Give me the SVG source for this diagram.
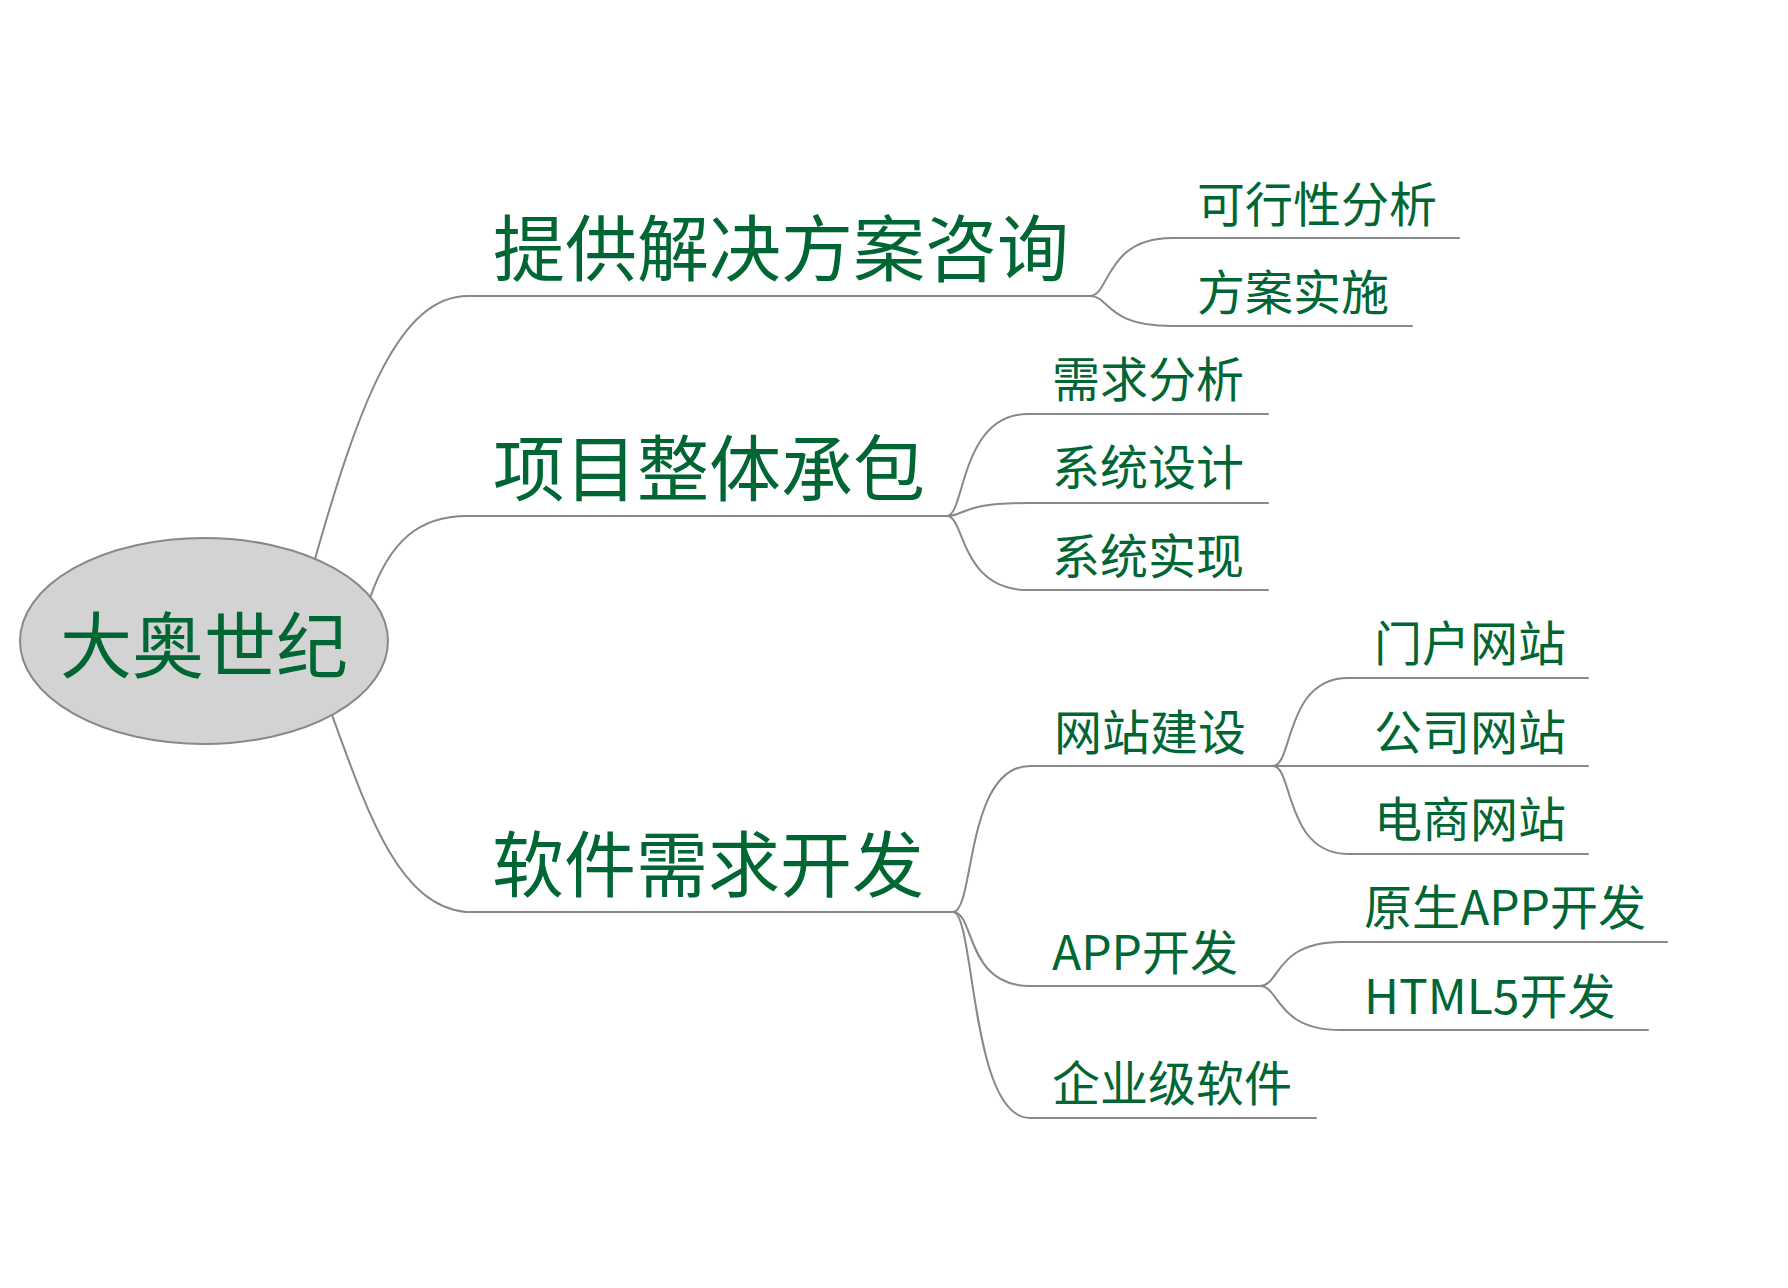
<svg xmlns="http://www.w3.org/2000/svg" width="1788" height="1288" viewBox="0 0 1788 1288">
<style>
.t{font-family:"Noto Sans CJK SC","Noto Sans",sans-serif;fill:#006633}
.b{font-size:72px}
.s{font-size:48px}
.c{fill:none;stroke:#888888;stroke-width:2;stroke-linecap:round}
</style>
<rect width="1788" height="1288" fill="#ffffff"/>
<g id="connectors" class="c">
<path d="M315 559 C360 400 400 296 468 296 L1090 296"/>
<path d="M370 598 C390 540 420 516 467 516 L947 516"/>
<path d="M332 715 C370 820 400 905 466 912 L953 912"/>
<path d="M1090 296 C1110 296 1105 238 1172 238 L1459 238"/>
<path d="M1090 296 C1110 296 1105 326 1172 326 L1412 326"/>
<path d="M947 516 C965 516 960 414 1028 414 L1268 414"/>
<path d="M947 516 C965 516 960 503 1028 503 L1268 503"/>
<path d="M947 516 C965 516 960 590 1028 590 L1268 590"/>
<path d="M953 912 C975 912 965 766 1030 766 L1273 766"/>
<path d="M953 912 C975 912 965 986 1030 986 L1260 986"/>
<path d="M953 912 C975 912 970 1118 1030 1118 L1316 1118"/>
<path d="M1273 766 C1293 766 1285 678 1348 678 L1588 678"/>
<path d="M1273 766 L1588 766"/>
<path d="M1273 766 C1293 766 1285 854 1348 854 L1588 854"/>
<path d="M1260 986 C1280 986 1275 942 1341 942 L1667 942"/>
<path d="M1260 986 C1280 986 1275 1030 1341 1030 L1648 1030"/>
</g>
<g id="root">
<ellipse cx="204" cy="641" rx="184" ry="103" fill="#d3d3d3" stroke="#888888" stroke-width="2"/>
<text class="t b" x="204" y="672" text-anchor="middle">大奥世纪</text>
</g>
<g id="n1"><text class="t b" x="493" y="275">提供解决方案咨询</text></g>
<g id="n1a"><text class="t s" x="1197" y="222">可行性分析</text></g>
<g id="n1b"><text class="t s" x="1197" y="310">方案实施</text></g>
<g id="n2"><text class="t b" x="493" y="495">项目整体承包</text></g>
<g id="n2a"><text class="t s" x="1052" y="397">需求分析</text></g>
<g id="n2b"><text class="t s" x="1052" y="485">系统设计</text></g>
<g id="n2c"><text class="t s" x="1052" y="574">系统实现</text></g>
<g id="n3"><text class="t b" x="492" y="891">软件需求开发</text></g>
<g id="n3a"><text class="t s" x="1054" y="750">网站建设</text></g>
<g id="n3a1"><text class="t s" x="1374" y="661">门户网站</text></g>
<g id="n3a2"><text class="t s" x="1374" y="750">公司网站</text></g>
<g id="n3a3"><text class="t s" x="1374" y="837">电商网站</text></g>
<g id="n3b"><text class="t s" x="1052" y="970">APP开发</text></g>
<g id="n3b1"><text class="t s" x="1364" y="925">原生APP开发</text></g>
<g id="n3b2"><text class="t s" x="1364" y="1014">HTML5开发</text></g>
<g id="n3c"><text class="t s" x="1052" y="1101">企业级软件</text></g>
</svg>
